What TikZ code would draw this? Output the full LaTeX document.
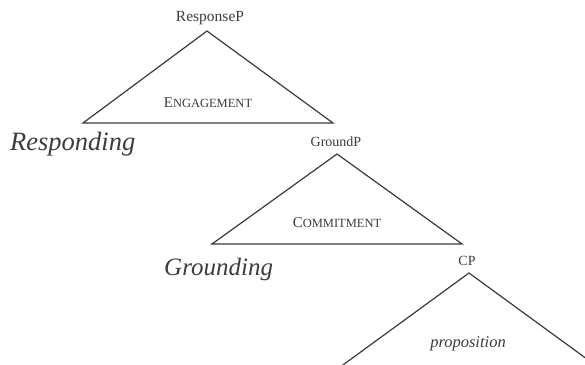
\documentclass[tikz,border=0pt]{standalone}
\usepackage{fontspec}
\setmainfont{Liberation Serif}
\definecolor{ink}{HTML}{3A3A3A}
\definecolor{txt}{HTML}{3C3C3C}
\tikzset{
  leg/.style={draw=ink, line width=1.2pt, line join=miter},
  cat/.style={text=txt, inner sep=0pt, anchor=base, font=\fontsize{14}{16}\selectfont},
  feat/.style={text=txt, inner sep=0pt, anchor=base},
  zone/.style={text=txt, inner sep=0pt, anchor=base west, font=\fontsize{25}{29}\selectfont\itshape},
}
% fake small capitals: first letter full size, rest reduced
\newcommand{\fsc}[2]{{\fontsize{15}{17}\selectfont #1\fontsize{12.5}{14}\selectfont #2}}
\begin{document}
\begin{tikzpicture}[x=1pt,y=-1pt]
\useasboundingbox (0,0) rectangle (585,364);
\clip (0,0) rectangle (585,364);

% ResponseP layer
\coordinate (r) at (207,31);
\coordinate (rl) at (83,123);
\coordinate (rr) at (333,123);
\draw[leg] (r) -- (rl) -- (rr) -- cycle;
\node[cat, font=\fontsize{15.5}{18}\selectfont] (rlab) at (210,21) {ResponseP};
\node[feat] (eng) at (208,107) {\fsc{E}{NGAGEMENT}};
\node[zone, font=\fontsize{26.5}{30}\selectfont\itshape] (resp) at (10,150) {Responding};

% GroundP layer
\coordinate (g) at (337,154);
\coordinate (gl) at (212,244);
\coordinate (gr) at (462,244);
\draw[leg] (g) -- (gl) -- (gr) -- cycle;
\node[cat] (glab) at (336,146) {GroundP};
\node[feat] (com) at (337,227) {\fsc{C}{OMMITMENT}};
\node[zone] (grd) at (164,275) {Grounding};

% CP layer (runs off the lower edge)
\coordinate (c) at (469,273);
\coordinate (cl) at (299,397);
\coordinate (cr) at (639,397);
\draw[leg] (cl) -- (c) -- (cr);
\node[cat] (clab) at (467,265) {CP};
\node[feat, font=\fontsize{16.5}{19}\selectfont\itshape] (prop) at (468,347) {proposition};
\end{tikzpicture}
\end{document}
